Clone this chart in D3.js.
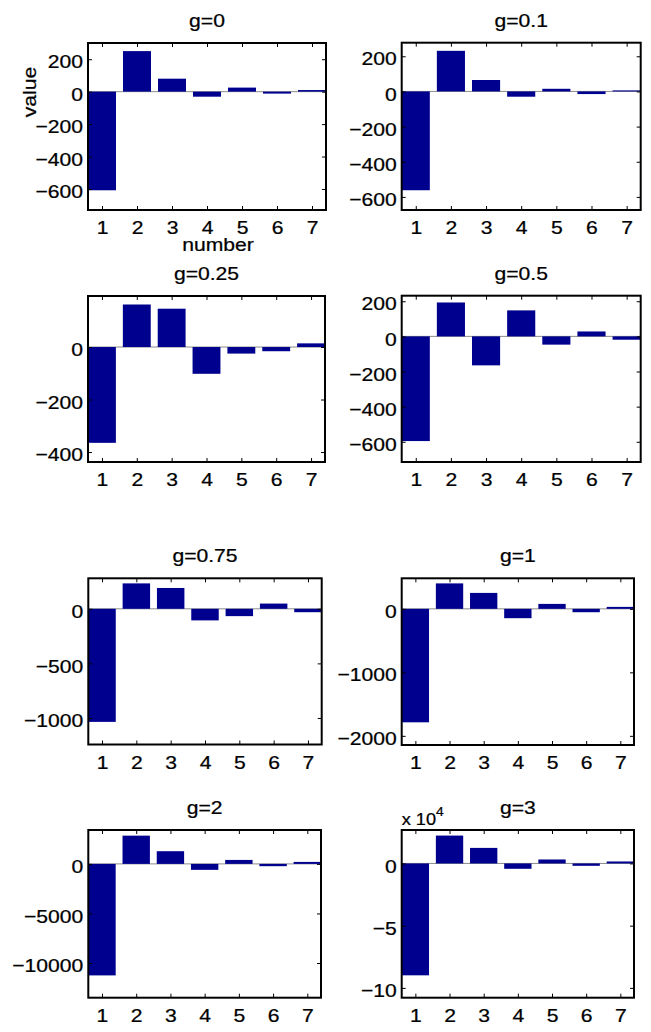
<!DOCTYPE html>
<html lang="en">
<head>
    <meta charset="UTF-8">
    <title>Bar panels for g</title>
    <script src="https://d3js.org/d3.v7.min.js"></script>
    <style>
        body { margin: 0; background: #fff; }
        text { font-family: "Liberation Sans", Arial, sans-serif; fill: #000; stroke: #000; stroke-width: 0.25px; }
    </style>
</head>
<body>
    <script>
        // data
        const numbers = [1, 2, 3, 4, 5, 6, 7];
        const titles = ["g=0", "g=0.1", "g=0.25", "g=0.5", "g=0.75", "g=1", "g=2", "g=3"];

        const g0   = [-608, 250, 80, -31, 25, -12, 10];
        const g01  = [-562, 231, 65, -30, 15, -15, 6];
        const g025 = [-365, 162, 146, -102, -25, -16, 14];
        const g05  = [-596, 193, -165, 148, -47, 28, -19];
        const g075 = [-1036, 233, 191, -106, -67, 48, -31];
        const g1   = [-1787, 401, 251, -147, 78, -53, 31];
        const g2   = [-11250, 2850, 1280, -600, 400, -230, 200];
        const g3   = [-89900, 22400, 12500, -4300, 3200, -1900, 1600];

        const yTicks0   = [-600, -400, -200, 0, 200];
        const yTicks01  = [-600, -400, -200, 0, 200];
        const yTicks025 = [-400, -200, 0];
        const yTicks05  = [-600, -400, -200, 0, 200];
        const yTicks075 = [-1000, -500, 0];
        const yTicks1   = [-2000, -1000, 0];
        const yTicks2   = [-10000, -5000, 0];
        const yTicks3   = [-100000, -50000, 0];

        const series = [g0, g01, g025, g05, g075, g1, g2, g3];
        const yTicks = [yTicks0, yTicks01, yTicks025, yTicks05, yTicks075, yTicks1, yTicks2, yTicks3];
        const yScaleFactor = [1, 1, 1, 1, 1, 1, 1, 1e4];

        // axes boxes (left, right, top, bottom) in px
        const boxes = [
            [88, 326, 43, 210], [401.7, 640.7, 42.7, 210],
            [88, 325, 296, 462], [401.7, 640.7, 295.7, 462],
            [88.3, 321.7, 578.3, 744.5], [401.7, 634, 578.3, 745],
            [88.3, 321, 830, 997.7], [401.7, 634, 830, 997.7]
        ];

        const fontSize = 19.2;
        const sx = 1.1;           // text in the picture is a bit wide
        const barColor = "#00008f";

        const svg = d3.select("body").append("svg")
            .attr("width", 651)
            .attr("height", 1032);

        const fmt = (f) => (d => {
            const v = d / f;
            return v < 0 ? "\u2212" + Math.abs(v) : String(v);
        });

        function label(parent, x, y, str, anchor, size) {
            return parent.append("text")
                .attr("transform", `translate(${x},${y}) scale(${sx},1)`)
                .attr("text-anchor", anchor)
                .attr("font-size", size || fontSize)
                .text(str);
        }

        series.forEach(function(vals, i) {
            const [l, r, t, b] = boxes[i];
            const f = yScaleFactor[i];
            const [mn, mx] = d3.extent(vals);

            const x = d3.scaleLinear().domain([0.6, 7.4]).range([l, r]);
            const y = d3.scaleLinear().domain([1.2 * mn, 1.2 * mx]).range([b, t]);

            const g = svg.append("g");

            // baseline
            g.append("line")
                .attr("x1", l).attr("x2", r)
                .attr("y1", y(0)).attr("y2", y(0))
                .attr("stroke", "#8c8c8c")
                .attr("stroke-width", 1);

            g.selectAll("rect.bar")
                .data(vals)
                .enter().append("rect")
                .attr("class", "bar")
                .attr("x", (d, k) => x(numbers[k] - 0.4))
                .attr("width", (d, k) => x(numbers[k] + 0.4) - x(numbers[k] - 0.4))
                .attr("y", d => y(Math.max(0, d)))
                .attr("height", d => Math.abs(y(d) - y(0)))
                .attr("fill", barColor);

            // axes, ticks pointing inward
            const axes = [
                [d3.axisLeft(y).tickValues(yTicks[i]).tickFormat(fmt(f)), l, 0, "left"],
                [d3.axisRight(y).tickValues(yTicks[i]).tickFormat(""), r, 0, "right"],
                [d3.axisBottom(x).tickValues(numbers).tickFormat(d3.format("d")), 0, b, "bottom"],
                [d3.axisTop(x).tickValues(numbers).tickFormat(""), 0, t, "top"]
            ];
            axes.forEach(function([ax, tx, ty, side]) {
                const a = g.append("g")
                    .attr("transform", `translate(${tx},${ty})`)
                    .call(ax.tickSizeInner(-4).tickSizeOuter(0).tickPadding(5));
                a.select(".domain").remove();
                a.selectAll("line").attr("stroke", "#000");
                a.attr("font-family", null).attr("font-size", fontSize);
                a.selectAll(".tick text").each(function() {
                    const tt = d3.select(this);
                    let px = +tt.attr("x") || 0, py = +tt.attr("y") || 0;
                    if (side === "left") tt.attr("dy", "0.45em");
                    if (side === "bottom") py = 10.4;
                    tt.attr("x", 0).attr("y", 0)
                        .attr("transform", `translate(${px},${py}) scale(${sx},1)`);
                });
            });

            g.append("rect")
                .attr("x", l).attr("y", t)
                .attr("width", r - l).attr("height", b - t)
                .attr("fill", "none")
                .attr("stroke", "#000")
                .attr("stroke-width", 2);

            label(g, (l + r) / 2, t - 16, titles[i], "middle");

            if (f !== 1) {
                const e = label(g, l, t - 5, "x 10", "start", 16.5);
                e.append("tspan")
                    .attr("dy", -9)
                    .attr("font-size", 12.5)
                    .text(Math.log10(f));
            }
        });

        // axis labels of the first panel
        svg.append("text")
            .attr("transform", `translate(36,92) rotate(-90) scale(${sx},1)`)
            .attr("text-anchor", "middle")
            .attr("font-size", fontSize)
            .text("value");

        label(svg, 218, 251, "number", "middle");
    </script>
</body>
</html>
